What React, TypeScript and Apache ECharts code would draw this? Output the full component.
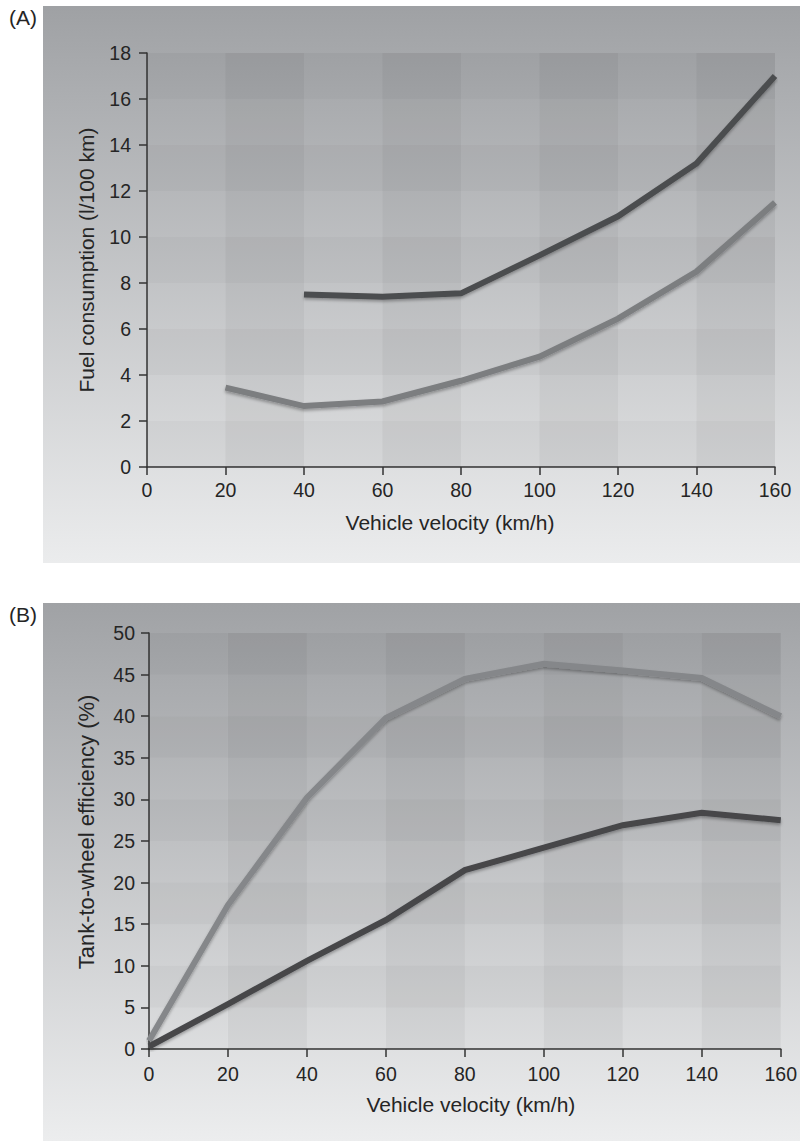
import React, { useEffect, useRef } from "react";
import * as echarts from "echarts";

// Panel A: fuel consumption vs velocity
const fuelDarkVelocity = [40, 60, 80, 100, 120, 140, 160];
const fuelDarkValues = [7.5, 7.4, 7.55, 9.2, 10.9, 13.2, 17.0];
const fuelLightVelocity = [20, 40, 60, 80, 100, 120, 140, 160];
const fuelLightValues = [3.45, 2.65, 2.85, 3.75, 4.8, 6.45, 8.5, 11.5];

// Panel B: tank-to-wheel efficiency vs velocity
const effVelocity = [0, 20, 40, 60, 80, 100, 120, 140, 160];
const effLightValues = [1.0, 17.3, 30.2, 39.8, 44.5, 46.3, 45.5, 44.6, 40.0];
const effDarkValues = [0.3, 5.4, 10.6, 15.5, 21.5, 24.2, 26.9, 28.4, 27.5];

// Axis tick edges (used for the checker background cells)
const velocityTicks = [0, 20, 40, 60, 80, 100, 120, 140, 160];
const fuelTicks = [0, 2, 4, 6, 8, 10, 12, 14, 16, 18];
const effTicks = [0, 5, 10, 15, 20, 25, 30, 35, 40, 45, 50];

const FONT = "'Liberation Sans', Arial, Helvetica, sans-serif";
const TEXT = "#252525";

function cells(xs: number[], ys: number[]) {
  const out: number[][] = [];
  for (let i = 0; i < xs.length - 1; i++) {
    for (let j = 0; j < ys.length - 1; j++) {
      const colDark = i % 2 === 1 ? 1 : 0;
      const rowDark = (ys.length - 2 - j) % 2 === 0 ? 1 : 0;
      const a = 0.01 + colDark * 0.04 + rowDark * 0.028;
      out.push([xs[i], xs[i + 1], ys[j], ys[j + 1], a]);
    }
  }
  return out;
}

function pairs(xs: number[], ys: number[]) {
  return xs.map((x, i) => [x, ys[i]]);
}

const renderCell = (params: any, api: any) => {
  const p0 = api.coord([api.value(0), api.value(3)]);
  const p1 = api.coord([api.value(1), api.value(2)]);
  return {
    type: "rect",
    shape: { x: p0[0], y: p0[1], width: p1[0] - p0[0], height: p1[1] - p0[1] },
    style: { fill: `rgba(0,0,0,${api.value(4)})` },
  };
};

function lineSeries(data: number[][], color: string, xi: number) {
  return {
    type: "line",
    xAxisIndex: xi,
    yAxisIndex: xi,
    data,
    symbol: "none",
    z: 5,
    silent: true,
    lineStyle: {
      color,
      width: 6,
      shadowColor: "rgba(0,0,0,0.3)",
      shadowBlur: 3,
      shadowOffsetY: 2,
      cap: "butt",
      join: "miter",
    },
  };
}

export default function App() {
  const ref = useRef<HTMLDivElement>(null);
  useEffect(() => {
    if (!ref.current) return;
    const chart = echarts.init(ref.current, undefined, { renderer: "svg" });
    const axisCommon = {
      axisLine: { show: true, lineStyle: { color: "#333", width: 1.5 } },
      axisTick: { show: true, length: 8, lineStyle: { color: "#333", width: 1.5 } },
      splitLine: { show: false },
      nameLocation: "middle",
    };
    const labelStyle = { color: TEXT, fontSize: 19.5, fontFamily: FONT };
    const nameStyle = { color: TEXT, fontSize: 21, fontFamily: FONT };
    chart.setOption({
      animation: false,
      graphic: [
        {
          type: "rect",
          z: -10,
          shape: { x: 43, y: 6, width: 757, height: 557 },
          style: {
            fill: new echarts.graphic.LinearGradient(0, 0, 0, 1, [
              { offset: 0, color: "#9fa1a4" },
              { offset: 0.15, color: "#abadb0" },
              { offset: 1, color: "#ebeced" },
            ]),
          },
        },
        {
          type: "rect",
          z: -10,
          shape: { x: 43, y: 603, width: 757, height: 538 },
          style: {
            fill: new echarts.graphic.LinearGradient(0, 0, 0, 1, [
              { offset: 0, color: "#a0a2a5" },
              { offset: 0.15, color: "#acaeb1" },
              { offset: 1, color: "#ecedee" },
            ]),
          },
        },
        { type: "text", left: 9, top: 7, style: { text: "(A)", fill: TEXT, font: `21px ${FONT}` } },
        { type: "text", left: 9, top: 604, style: { text: "(B)", fill: TEXT, font: `21px ${FONT}` } },
      ],
      grid: [
        { left: 147, right: 25, top: 53, bottom: 674 },
        { left: 149, right: 17, top: 633, bottom: 92 },
      ],
      xAxis: [
        {
          ...axisCommon,
          type: "value",
          gridIndex: 0,
          min: 0,
          max: 160,
          interval: 20,
          name: "Vehicle velocity (km/h)",
          nameGap: 45,
          nameTextStyle: { ...nameStyle, padding: [0, 22, 0, 0] },
          axisLabel: { ...labelStyle, margin: 13 },
        },
        {
          ...axisCommon,
          type: "value",
          gridIndex: 1,
          min: 0,
          max: 160,
          interval: 20,
          name: "Vehicle velocity (km/h)",
          nameGap: 45,
          nameTextStyle: { ...nameStyle, padding: [0, 0, 0, 12] },
          axisLabel: { ...labelStyle, margin: 15 },
        },
      ],
      yAxis: [
        {
          ...axisCommon,
          type: "value",
          gridIndex: 0,
          min: 0,
          max: 18,
          interval: 2,
          name: "Fuel consumption (l/100 km)",
          nameGap: 50,
          nameTextStyle: nameStyle,
          axisLabel: { ...labelStyle, margin: 16 },
        },
        {
          ...axisCommon,
          type: "value",
          gridIndex: 1,
          min: 0,
          max: 50,
          interval: 5,
          name: "Tank-to-wheel efficiency (%)",
          nameGap: 52,
          nameTextStyle: { ...nameStyle, fontSize: 22, padding: [0, 0, 0, 18] },
          axisLabel: { ...labelStyle, margin: 14 },
        },
      ],
      series: [
        {
          type: "custom",
          xAxisIndex: 0,
          yAxisIndex: 0,
          z: 1,
          silent: true,
          renderItem: renderCell,
          encode: { x: [0, 1], y: [2, 3] },
          data: cells(velocityTicks, fuelTicks),
        },
        {
          type: "custom",
          xAxisIndex: 1,
          yAxisIndex: 1,
          z: 1,
          silent: true,
          renderItem: renderCell,
          encode: { x: [0, 1], y: [2, 3] },
          data: cells(velocityTicks, effTicks),
        },
        lineSeries(pairs(fuelLightVelocity, fuelLightValues), "#7c7e80", 0),
        lineSeries(pairs(fuelDarkVelocity, fuelDarkValues), "#4c4d4f", 0),
        lineSeries(pairs(effVelocity, effLightValues), "#85878a", 1),
        lineSeries(pairs(effVelocity, effDarkValues), "#46474a", 1),
      ],
    });
    return () => chart.dispose();
  }, []);
  return (
    <div
      ref={ref}
      style={{ position: "absolute", left: 0, top: 0, width: 800, height: 1141 }}
    />
  );
}
